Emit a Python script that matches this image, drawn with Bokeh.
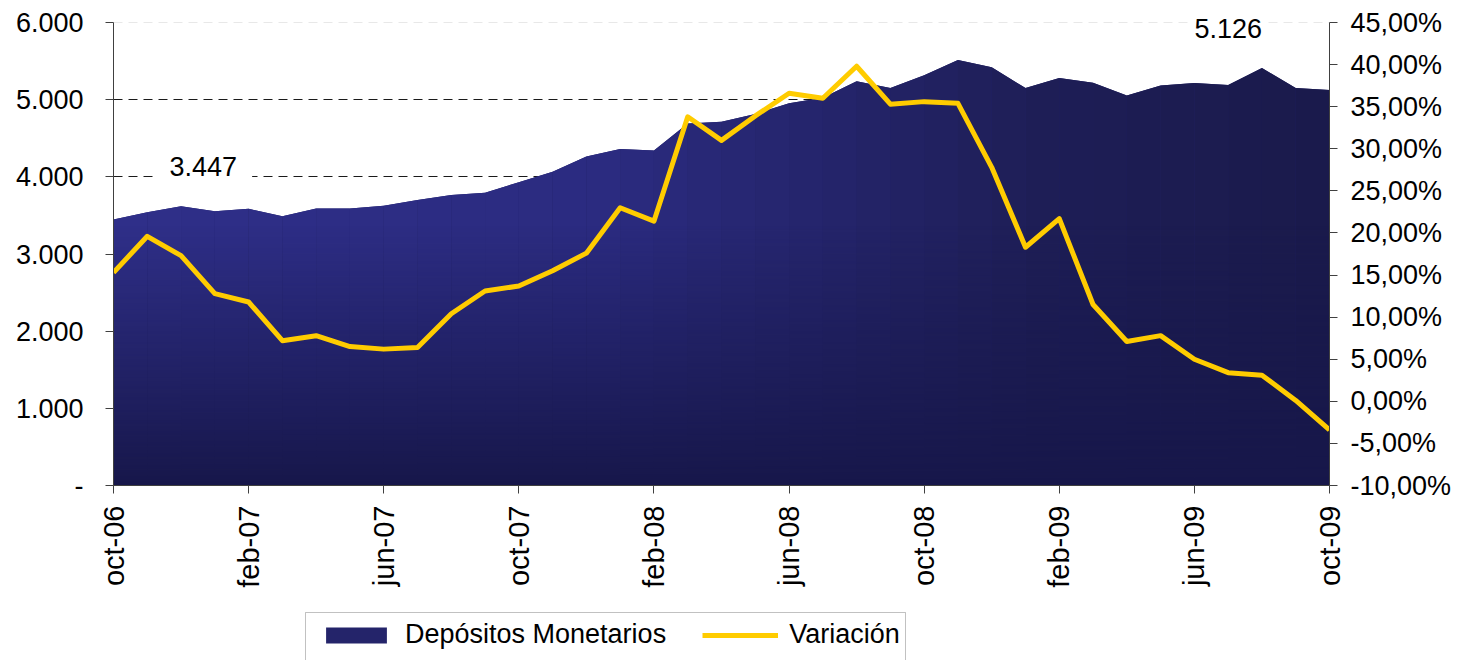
import numpy as np
from bokeh.plotting import figure
from bokeh.layouts import column
from bokeh.models import (Range1d, LinearAxis, FixedTicker, Grid, Label,
                          Legend, LegendItem, ColumnDataSource, BoxAnnotation)
from bokeh.embed import file_html
from bokeh.resources import INLINE

# ---------------- data ----------------
months = ["oct-06", "nov-06", "dic-06", "ene-07", "feb-07", "mar-07", "abr-07",
          "may-07", "jun-07", "jul-07", "ago-07", "sep-07", "oct-07", "nov-07",
          "dic-07", "ene-08", "feb-08", "mar-08", "abr-08", "may-08", "jun-08",
          "jul-08", "ago-08", "sep-08", "oct-08", "nov-08", "dic-08", "ene-09",
          "feb-09", "mar-09", "abr-09", "may-09", "jun-09", "jul-09", "ago-09",
          "sep-09", "oct-09"]

depositos = [3447, 3540, 3619, 3555, 3585, 3490, 3590, 3590, 3625, 3700,
             3765, 3795, 3930, 4065, 4265, 4360, 4340, 4690, 4715, 4815,
             4955, 5025, 5240, 5150, 5315, 5515, 5420, 5150, 5280, 5220,
             5055, 5185, 5215, 5190, 5410, 5150, 5126]

variacion = [15.3, 19.6, 17.3, 12.8, 11.8, 7.2, 7.8, 6.5, 6.2, 6.4,
             10.4, 13.1, 13.7, 15.5, 17.6, 23.0, 21.4, 33.8, 31.0, 33.9,
             36.6, 36.0, 39.8, 35.3, 35.6, 35.4, 27.8, 18.3, 21.7, 11.5,
             7.1, 7.8, 5.0, 3.4, 3.1, 0.1, -3.4]

left_ticks = [0, 1000, 2000, 3000, 4000, 5000, 6000]
left_labels = ["-", "1.000", "2.000", "3.000", "4.000", "5.000", "6.000"]

right_ticks = [-10, -5, 0, 5, 10, 15, 20, 25, 30, 35, 40, 45]
right_labels = ["-10,00%", "-5,00%", "0,00%", "5,00%", "10,00%", "15,00%",
                "20,00%", "25,00%", "30,00%", "35,00%", "40,00%", "45,00%"]

x_tick_step = 4

series_names = ["Depósitos Monetarios", "Variación"]

# ---------------- styling helpers ----------------
FONT = "Liberation Sans"
FS = "27px"
AX = "#404040"
LINE_COL = "#ffcc00"
AREA_COL = "#24246a"


def hex2rgb(h):
    h = h.lstrip("#")
    return np.array([int(h[i:i + 2], 16) for i in (0, 2, 4)], dtype=float)


def rgb2hex(c):
    c = np.clip(np.round(c), 0, 255).astype(int)
    return "#%02x%02x%02x" % tuple(c)


anchor_pos = [0.0, 0.4, 0.58, 0.75, 1.0]
anchor_col = [hex2rgb(c) for c in ["#2f2f89", "#2b2b80", "#25256c", "#1e1e57", "#1a1a4b"]]


def grad_color(t):
    rgb = [np.interp(t, anchor_pos, [c[k] for c in anchor_col]) for k in range(3)]
    return rgb2hex(np.array(rgb))


x = list(range(len(months)))
n = len(months)

# geometry: axis spans 463 px for 0..6000; frame extended 22 px above
FRAME_W, AXIS_H, TOP_PAD = 1216, 463, 22
BL, BR = 113, 128
FRAME_H = AXIS_H + TOP_PAD
y_top = left_ticks[-1] * FRAME_H / AXIS_H
r_lo, r_hi = right_ticks[0], right_ticks[-1]
r_top = r_lo + (r_hi - r_lo) * FRAME_H / AXIS_H

p = figure(frame_width=FRAME_W, frame_height=FRAME_H,
           x_range=Range1d(0, n - 1), y_range=Range1d(0, y_top),
           output_backend="svg", toolbar_location=None,
           min_border_left=BL, min_border_right=BR,
           min_border_top=0, min_border_bottom=105,
           background_fill_color="white", border_fill_color="white",
           outline_line_color=None)
p.xgrid.visible = False
p.ygrid.visible = False
p.extra_y_ranges = {"pct": Range1d(r_lo, r_top)}

# dashed gridlines (behind the area)
p.add_layout(Grid(dimension=1, ticker=FixedTicker(ticks=left_ticks[1:-1]),
                  grid_line_color="#1a1a1a", grid_line_dash="9 6",
                  grid_line_width=1))
p.add_layout(Grid(dimension=1, ticker=FixedTicker(ticks=[left_ticks[-1]]),
                  grid_line_color="#e8e8e8", grid_line_dash="9 6",
                  grid_line_width=1))

src = ColumnDataSource(dict(x=x, dep=depositos, var=variacion))
p.varea(x="x", y1=0, y2="dep", source=src, fill_color=AREA_COL)

# strips with horizontal colour gradient
xs, ys, cols = [], [], []
for i in range(n - 1):
    xs.append([x[i], x[i], x[i + 1], x[i + 1]])
    ys.append([0, depositos[i], depositos[i + 1], 0])
    cols.append(grad_color((i + 0.5) / (n - 1)))
p.patches(xs=xs, ys=ys, fill_color=cols, line_color=None)

# vertical darkening towards the bottom (stays inside the area)
dark = hex2rgb("#17174a").astype(np.uint8)
N = 256
img = np.zeros((N, 2), dtype=np.uint32)
view = img.view(dtype=np.uint8).reshape((N, 2, 4))
alpha = 1.0 - np.arange(N) / (N - 1)
for k in range(3):
    view[:, :, k] = dark[k]
view[:, :, 3] = (alpha * 255).astype(np.uint8)[:, None]
p.image_rgba(image=[img], x=0, y=0, dw=n - 1, dh=0.98 * min(depositos))

p.line(x="x", y="var", source=src, y_range_name="pct",
       line_color=LINE_COL, line_width=5, line_join="round")

# ---------------- axes ----------------
xa = p.xaxis[0]
xa.ticker = FixedTicker(ticks=x[::x_tick_step])
xa.major_label_overrides = {i: months[i] for i in x[::x_tick_step]}
xa.major_label_orientation = np.pi / 2
xa.major_label_standoff = 12

ya = p.yaxis[0]
ya.ticker = FixedTicker(ticks=left_ticks)
ya.major_label_overrides = {t: l for t, l in zip(left_ticks, left_labels)}
ya.major_label_standoff = 22
ya.bounds = (left_ticks[0], left_ticks[-1])

ra = LinearAxis(y_range_name="pct", ticker=FixedTicker(ticks=right_ticks))
ra.major_label_overrides = {t: l for t, l in zip(right_ticks, right_labels)}
ra.major_label_standoff = 13
ra.bounds = (r_lo, r_hi)
p.add_layout(ra, "right")

for ax in (xa, ya, ra):
    ax.axis_line_color = AX
    ax.axis_line_width = 1
    ax.major_tick_line_color = AX
    ax.major_tick_out = 8
    ax.major_tick_in = 0
    ax.minor_tick_line_color = None
    ax.major_label_text_font = FONT
    ax.major_label_text_font_size = FS
    ax.major_label_text_color = "black"
xa.major_label_text_font_size = "29px"


# ---------------- data labels ----------------
def fmt(v):
    return f"{v:,}".replace(",", ".")


p.add_layout(Label(x=2.66, y=4134, text=fmt(depositos[0]),
                   text_align="center", text_baseline="middle",
                   text_font=FONT, text_font_size=FS, text_color="black",
                   background_fill_color="white", padding=15))
p.add_layout(Label(x=33.0, y=5922, text=fmt(depositos[-1]),
                   text_align="center", text_baseline="middle",
                   text_font=FONT, text_font_size=FS, text_color="black",
                   background_fill_color="white", padding=4))

# ---------------- legend (separate strip below, same frame columns) ----------------
LH = 70
p2 = figure(frame_width=FRAME_W, frame_height=LH,
            x_range=Range1d(BL, BL + FRAME_W), y_range=Range1d(0, LH),
            output_backend="svg", toolbar_location=None,
            min_border_left=BL, min_border_right=BR,
            min_border_top=0, min_border_bottom=0,
            x_axis_type=None, y_axis_type=None, outline_line_color=None,
            background_fill_color="white", border_fill_color="white")
p2.xgrid.visible = False
p2.ygrid.visible = False
# legend proxies: the real series, drawn on an off-screen range
p2.extra_x_ranges = {"off": Range1d(1000, 1001)}
r_area = p2.varea(x="x", y1=0, y2="dep", source=src, x_range_name="off",
                  fill_color=AREA_COL)
r_line = p2.line(x="x", y="var", source=src, x_range_name="off",
                 line_color=LINE_COL, line_width=5)
p2.add_layout(BoxAnnotation(left=305, right=905, top=48, bottom=-20,
                            fill_alpha=0, line_color="#333333", line_width=1))
legend = Legend(items=[LegendItem(label=series_names[0], renderers=[r_area]),
                       LegendItem(label=series_names[1], renderers=[r_line])],
                location=(318 - BL, 10), orientation="horizontal",
                padding=0, spacing=36, label_standoff=11,
                glyph_width=76, glyph_height=20, margin=0,
                label_text_font=FONT, label_text_font_size="27px",
                label_text_color="black",
                border_line_color=None, background_fill_alpha=0)
p2.add_layout(legend)

open("out.html", "w").write(file_html(column(p, p2), INLINE))
